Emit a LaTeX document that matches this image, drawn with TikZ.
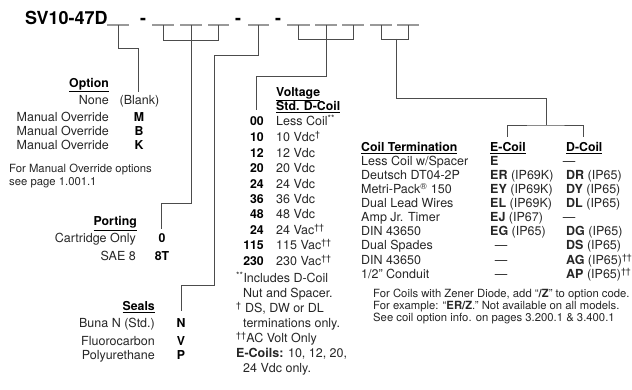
\documentclass[tikz,border=0pt]{standalone}
\usepackage{fontspec}
\setmainfont{TeX Gyre Heros}
\begin{document}
\begin{tikzpicture}[x=1pt, y=-1pt, every node/.style={inner sep=0pt, text=black!85, font=\fontsize{12.5}{14}\selectfont},
  hdr/.style={font=\fontsize{12.3}{14}\selectfont\bfseries, text=black},
  code/.style={font=\fontsize{12.3}{14}\selectfont\bfseries, anchor=mid, text=black},
  lft/.style={anchor=mid west}, rgt/.style={anchor=mid east},
  note/.style={font=\fontsize{11.3}{12}\selectfont, anchor=mid west},
  conn/.style={draw=black!70, line width=0.9pt},
  blank/.style={draw=black!40, line width=1.4pt}]
\useasboundingbox (0,0) rectangle (632,390);
% part number with blanks
\node[font=\fontsize{18}{20}\selectfont\bfseries, anchor=base west, text=black] (pn) at (25,25) {SV10-47D};
\node[font=\fontsize{18}{20}\selectfont\bfseries, anchor=base, text=black] (h1) at (143,25) {-};
\node[font=\fontsize{18}{20}\selectfont\bfseries, anchor=base, text=black] (h2) at (238,25) {-};
\node[font=\fontsize{18}{20}\selectfont\bfseries, anchor=base, text=black] (h3) at (278,25) {-};
\draw[blank] (107,25) -- coordinate (b1) (129,25);
\draw[blank] (152,25) -- coordinate (b2a) (174,25);
\draw[blank] (180,25) -- coordinate (b2b) (202,25);
\draw[blank] (208,25) -- coordinate (b2c) (229,25);
\draw[blank] (248,25) -- coordinate (b3) (269,25);
\draw[blank] (287,25) -- coordinate (b4a) (310,25);
\draw[blank] (315,25) -- coordinate (b4b) (337,25);
\draw[blank] (342,25) -- coordinate (b4c) (364,25);
\draw[blank] (370,25) -- coordinate (b5a) (392,25);
\draw[blank] (397,25) -- coordinate (b5b) (419,25);
% option
\node[hdr,rgt] (opt) at (109,85) {\underline{Option}};
\node[rgt] (none) at (109,102) {None};
\node[anchor=mid] (blk) at (139.5,102) {(Blank)};
\node[rgt] (mo1) at (109,119) {Manual Override}; \node[code] (cm) at (139,119) {M};
\node[rgt] (mo2) at (109,133) {Manual Override}; \node[code] (cb) at (139,133) {B};
\node[rgt] (mo3) at (109,147) {Manual Override}; \node[code] (ck) at (139,147) {K};
\node[note] (mo4) at (9,170) {For Manual Override options};
\node[note] (mo5) at (9,183) {see page 1.001.1};
\coordinate (optend) at (138,92);
\draw[conn] (b1) -- ++(0,23) -| (optend);
% porting
\node[hdr,rgt] (port) at (137,223) {\underline{Porting}};
\node[rgt] (cart) at (136,240) {Cartridge Only}; \node[code] (c0) at (162,240) {0};
\node[rgt] (sae) at (136,258) {SAE 8}; \node[code] (c8t) at (162,258) {8T};
\coordinate (portend) at (161,229);
\draw[conn] (b2a) -- ++(0,15) -| (b2c);
\draw[conn] (b2b) -- ++(0,178) -| (portend);
% seals
\node[hdr,rgt] (seal) at (155,308) {\underline{Seals}};
\node[rgt] (buna) at (155,325) {Buna N (Std.)}; \node[code] (cn) at (181,325) {N};
\node[rgt] (fluor) at (155,343) {Fluorocarbon}; \node[code] (cv) at (181,343) {V};
\node[rgt] (poly) at (155,357) {Polyurethane}; \node[code] (cp) at (181,357) {P};
\coordinate (sealend) at (181,311);
\draw[conn] (b3) -- ++(0,30) -| ++(-44,230) -| (sealend);
% voltage
\node[hdr,lft] (volt) at (276,94) {\underline{Voltage}};
\node[hdr,lft] (std) at (276,108) {\underline{Std. D-Coil}};
\node[code,rgt] (v00) at (264,123) {00}; \node[lft] (t00) at (276,123) {Less Coil\textsuperscript{**}};
\node[code,rgt] (v10) at (264,139) {10}; \node[lft] (t10) at (276,139) {10 Vdc\textsuperscript{†}};
\node[code,rgt] (v12) at (264,155) {12}; \node[lft] (t12) at (276,155) {12 Vdc};
\node[code,rgt] (v20) at (264,170) {20}; \node[lft] (t20) at (276,170) {20 Vdc};
\node[code,rgt] (v24) at (264,186) {24}; \node[lft] (t24) at (276,186) {24 Vdc};
\node[code,rgt] (v36) at (264,201) {36}; \node[lft] (t36) at (276,201) {36 Vdc};
\node[code,rgt] (v48) at (264,216) {48}; \node[lft] (t48) at (276,216) {48 Vdc};
\node[code,rgt] (v24a) at (264,232) {24}; \node[lft] (t24a) at (276,232) {24 Vac\textsuperscript{††}};
\node[code,rgt] (v115) at (264,247) {115}; \node[lft] (t115) at (276,247) {115 Vac\textsuperscript{††}};
\node[code,rgt] (v230) at (264,263) {230}; \node[lft] (t230) at (276,263) {230 Vac\textsuperscript{††}};
\node[lft] (n1) at (236,280) {\textsuperscript{**}Includes D-Coil};
\node[lft] (n2) at (243,295) {Nut and Spacer.};
\node[lft] (n3) at (236,310) {\textsuperscript{†} DS, DW or DL};
\node[lft] (n4) at (243,325) {terminations only.};
\node[lft] (n5) at (236,340) {\textsuperscript{††}AC Volt Only};
\node[lft] (n6) at (236,355) {\textbf{E-Coils:} 10, 12, 20,};
\node[lft] (n7) at (243,370) {24 Vdc only.};
\coordinate (voltend) at (256,110);
\draw[conn] (b4a) -- ++(0,14) -| (b4c);
\draw[conn] (b4b) -- ++(0,51) -| (voltend);
% coil termination
\node[hdr,lft] (cterm) at (361,149) {\underline{Coil Termination}};
\node[hdr,lft] (ecoil) at (490,149) {\underline{E-Coil}};
\node[hdr,lft] (dcoil) at (566,149) {\underline{D-Coil}};
\node[lft] (r1) at (361,163) {Less Coil w/Spacer}; \node[lft] (e1) at (490,163) {\textbf{E}}; \node[anchor=mid] (d1) at (569,163) {—};
\node[lft] (r2) at (361,177) {Deutsch DT04-2P}; \node[lft] (e2) at (490,177) {\textbf{ER} (IP69K)}; \node[lft] (d2) at (566,177) {\textbf{DR} (IP65)};
\node[lft] (r3) at (361,191) {Metri-Pack\textsuperscript{®} 150}; \node[lft] (e3) at (490,191) {\textbf{EY} (IP69K)}; \node[lft] (d3) at (566,191) {\textbf{DY} (IP65)};
\node[lft] (r4) at (361,205) {Dual Lead Wires}; \node[lft] (e4) at (490,205) {\textbf{EL} (IP69K)}; \node[lft] (d4) at (566,205) {\textbf{DL} (IP65)};
\node[lft] (r5) at (361,219) {Amp Jr. Timer}; \node[lft] (e5) at (490,219) {\textbf{EJ} (IP67)}; \node[anchor=mid] (d5) at (569,219) {—};
\node[lft] (r6) at (361,233) {DIN 43650}; \node[lft] (e6) at (490,233) {\textbf{EG} (IP65)}; \node[lft] (d6) at (566,233) {\textbf{DG} (IP65)};
\node[lft] (r7) at (361,247) {Dual Spades}; \node[anchor=mid] (e7) at (501,247) {—}; \node[lft] (d7) at (566,247) {\textbf{DS} (IP65)};
\node[lft] (r8) at (361,262) {DIN 43650}; \node[anchor=mid] (e8) at (501,262) {—}; \node[lft] (d8) at (566,262) {\textbf{AG} (IP65)\textsuperscript{††}};
\node[lft] (r9) at (361,276) {1/2” Conduit}; \node[anchor=mid] (e9) at (501,276) {—}; \node[lft] (d9) at (566,276) {\textbf{AP} (IP65)\textsuperscript{††}};
\node[note] (f1) at (373,295) {For Coils with Zener Diode, add “\textbf{/Z}” to option code.};
\node[note] (f2) at (373,307) {For example: “\textbf{ER/Z}.” Not available on all models.};
\node[note] (f3) at (373,319) {See coil option info. on pages 3.200.1 \& 3.400.1};
\coordinate (cmid) at (396,39);
\coordinate (ctop) at (546,125);
\coordinate (etick) at (507,137);
\coordinate (dtick) at (583,137);
\draw[conn] (b5a) -- ++(0,14) -| (b5b);
\draw[conn] (cmid) -- ++(0,59) -| (ctop);
\draw[conn] (etick) |- (ctop) -| (dtick);
\end{tikzpicture}
\end{document}
